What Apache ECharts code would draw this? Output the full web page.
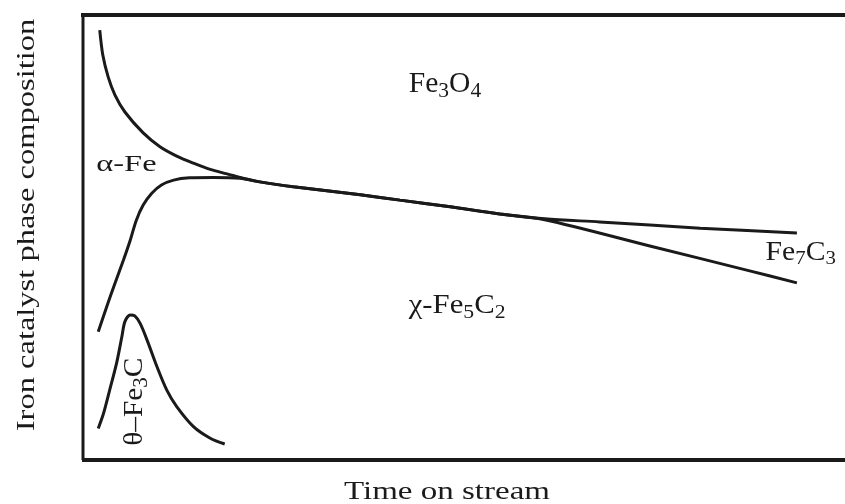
<!DOCTYPE html>
<html>
<head>
<meta charset="utf-8">
<script src="https://cdn.jsdelivr.net/npm/echarts@6/dist/echarts.min.js"></script>
<style>
  html, body { margin: 0; padding: 0; background: #fff; overflow: hidden; }
  #chart { width: 845px; height: 504px; background: #fff; }
</style>
</head>
<body>
<div id="chart"></div>
<script>
// Schematic phase evolution of an iron FT catalyst.
// x: time on stream (arbitrary units), y: phase composition (arbitrary units 0-100)

// Upper boundary: Fe3O4 above, alpha-Fe / chi-Fe5C2 / Fe7C3 below
const fe3o4Boundary = [
  [2.2, 96.6], [2.6, 91.0], [3.3, 86.1], [4.2, 82.0], [5.5, 78.2], [7.9, 73.5],
  [10.1, 70.4], [12.3, 68.3], [14.5, 66.7], [16.7, 65.3], [18.9, 64.3], [21.0, 63.3],
  [23.2, 62.5], [27.6, 61.4], [36.4, 59.6], [41.6, 58.4], [48.2, 56.9], [54.7, 55.3],
  [60.6, 54.2], [67.8, 53.5], [81.0, 52.1], [93.7, 51.0]
];

// Lower boundary: alpha-Fe / Fe7C3 above, chi-Fe5C2 below
const alphaFeBoundary = [
  [2.0, 28.8], [3.1, 34.4], [4.2, 39.7], [5.3, 44.9], [6.2, 49.4], [7.0, 53.9],
  [7.9, 57.3], [9.0, 59.9], [10.3, 61.8], [11.9, 62.9], [14.0, 63.4], [17.1, 63.5],
  [20.6, 63.3], [23.2, 62.5], [27.6, 61.4], [36.4, 59.6], [41.6, 58.4], [48.2, 56.9],
  [54.7, 55.3], [60.6, 54.0], [74.4, 48.1], [87.5, 42.5], [93.7, 39.8]
];

// Transient theta-Fe3C carbide
const thetaFe3C = [
  [2.0, 7.1], [2.7, 10.5], [3.5, 15.7], [4.4, 21.7], [5.1, 27.7], [5.5, 31.1],
  [6.2, 32.6], [6.8, 32.4], [7.5, 30.7], [8.4, 27.0], [9.7, 21.0], [11.0, 15.7],
  [12.3, 12.0], [14.5, 7.5], [16.7, 4.9], [18.6, 3.6]
];

// Phase names (digits become subscripts)
const phaseNames = ['Fe3O4', 'α-Fe', 'χ-Fe5C2', 'Fe7C3', 'θ–Fe3C'];
const xTitle = 'Time on stream';
const yTitle = 'Iron catalyst phase composition';

const FONT = '"Liberation Serif", "DejaVu Serif", serif';
const INK = '#1a1a1a';
const X_MAX = 100.8;
const Y_MAX = 100;

function richFormula(str) {
  return str.replace(/(\D+)|(\d+)/g, (m, a, d) => a ? '{b|' + a + '}' : '{s|' + d + '}');
}

function richStyles(fs) {
  return {
    b: { fontSize: fs, fontFamily: FONT, fill: INK, lineHeight: Math.round(fs * 1.2) },
    s: { fontSize: Math.round(fs * 0.72), fontFamily: FONT, fill: INK,
         lineHeight: Math.round(fs * 0.2), verticalAlign: 'bottom' }
  };
}

function curve(name, data) {
  return {
    name: name,
    type: 'line',
    data: data,
    smooth: 0.3,
    showSymbol: false,
    symbol: 'none',
    lineStyle: { color: INK, width: 3 },
    silent: true,
    animation: false
  };
}

// Axes carry the scales only; the frame is drawn separately below
const bareAxis = (pos, max) => ({
  type: 'value',
  position: pos,
  min: 0,
  max: max,
  axisLine: { show: false },
  axisTick: { show: false },
  axisLabel: { show: false },
  splitLine: { show: false }
});

const chart = echarts.init(document.getElementById('chart'), null, { renderer: 'canvas' });

chart.setOption({
  animation: false,
  // the time axis runs on past the right edge of the frame
  grid: { left: 83, right: -6, top: 15, bottom: 44, containLabel: false, outerBoundsMode: 'none' },
  xAxis: [bareAxis('bottom', X_MAX)],
  yAxis: [bareAxis('left', Y_MAX)],
  series: [
    curve('Fe3O4 boundary', fe3o4Boundary),
    curve('α-Fe boundary', alphaFeBoundary),
    curve('θ-Fe3C', thetaFe3C)
  ]
});

const toPx = pt => chart.convertToPixel({ gridIndex: 0 }, pt);
const origin = toPx([0, 0]);
const topLeft = toPx([0, Y_MAX]);
const rightEdge = chart.getWidth();

// Frame: left, top and bottom rules (open to the right)
const frameLine = (x1, y1, x2, y2, w) => ({
  type: 'line', silent: true, z: 1,
  shape: { x1: x1, y1: y1, x2: x2, y2: y2 },
  style: { stroke: INK, lineWidth: w }
});

const graphics = [
  frameLine(origin[0], topLeft[1], origin[0], origin[1], 3),
  frameLine(origin[0] - 2, topLeft[1], rightEdge, topLeft[1], 4),
  frameLine(origin[0] - 1, origin[1], rightEdge, origin[1], 4),
  // keep the right side of the frame open
  {
    type: 'rect', silent: true, z: 100,
    shape: { x: rightEdge - 5, y: topLeft[1] + 3, width: 8, height: origin[1] - topLeft[1] - 6 },
    style: { fill: '#ffffff', stroke: null }
  }
];

// Phase labels anchored in data space
const labelSpecs = [
  { name: phaseNames[0], at: [47.5, 84.3], fs: 29, sx: 1.02, rot: 0 },
  { name: phaseNames[1], at: [5.7, 66.4], fs: 24, sx: 1.35, rot: 0 },
  { name: phaseNames[2], at: [49.1, 34.6], fs: 27, sx: 1.14, rot: 0 },
  { name: phaseNames[3], at: [94.2, 46.6], fs: 27, sx: 1.1, rot: 0 },
  { name: phaseNames[4], at: [6.8, 13.1], fs: 28, sx: 1.05, rot: Math.PI / 2 }
];

labelSpecs.forEach(spec => {
  const p = toPx(spec.at);
  graphics.push({
    type: 'text',
    x: p[0],
    y: p[1],
    rotation: spec.rot,
    scaleX: spec.sx,
    silent: true,
    z: 5,
    style: {
      text: richFormula(spec.name),
      rich: richStyles(spec.fs),
      fill: INK,
      align: 'center',
      verticalAlign: 'middle'
    }
  });
});

// Axis titles
graphics.push({
  type: 'text', x: 447, y: 492, scaleX: 1.27, silent: true,
  style: { text: xTitle, font: '26px ' + FONT, fill: INK, align: 'center', verticalAlign: 'middle' }
});
graphics.push({
  type: 'text', x: 27, y: 225, rotation: Math.PI / 2, scaleX: 1.3, silent: true,
  style: { text: yTitle, font: '25px ' + FONT, fill: INK, align: 'center', verticalAlign: 'middle' }
});

chart.setOption({ graphic: graphics });
</script>
</body>
</html>
